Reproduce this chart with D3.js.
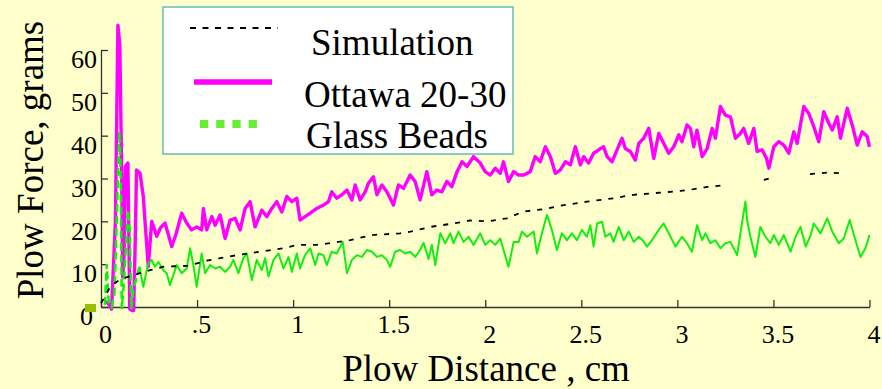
<!DOCTYPE html>
<html>
<head>
  <meta charset="utf-8">
  <title>plow-force</title>
  <style>
    body { margin: 0; background: #ffffcc; }
    svg { display: block; font-family: "Liberation Serif", "Times New Roman", serif; }
    .axis path, .axis line { stroke: #333; stroke-width: 1.3; }
    .axis text { fill: black; font-size: 26px; font-family: "Liberation Serif", serif; }
    .title { font-size: 37px; fill: black; }
  </style>
  <script src="https://d3js.org/d3.v7.min.js"></script>
</head>
<body>
<script>

// data
var simX = [0, 0.02, 0.047, 0.082, 0.116, 0.203, 0.255, 0.325, 0.446, 0.55, 0.62, 0.707, 0.828, 0.95, 1.02, 1.12, 1.21, 1.297, 1.41, 1.557, 1.61, 1.714, 1.835, 1.92, 2.01, 2.113, 2.2, 2.3, 2.41, 2.53, 2.67, 2.77, 2.86, 2.91, 3.016, 3.085, 3.164, 3.26, 3.28, 3.45, 3.5, 3.52, 3.69, 3.78, 3.857];
var simY = [0.9, 2.4, 4.7, 5.9, 6.7, 7.9, 8.6, 9.4, 9.6, 10.8, 11.4, 12.1, 12.9, 13.7, 14.5, 14.5, 15, 15.6, 16.8, 17.2, 17.6, 18.7, 19.5, 20.2, 20, 20.7, 22.3, 22.8, 23.8, 24.6, 25.4, 26.2, 26.5, 26.7, 27.1, 27.5, 28.1, 28.5, NaN, 29.7, 30.2, NaN, 31, 31.4, 31.2];

var ottawaX = [0.02, 0.035, 0.055, 0.075, 0.088, 0.098, 0.108, 0.113, 0.12, 0.127, 0.14, 0.15, 0.16, 0.17, 0.178, 0.185, 0.203, 0.22, 0.246, 0.264, 0.29, 0.31, 0.333, 0.35, 0.368, 0.39, 0.42, 0.446, 0.472, 0.498, 0.524, 0.533, 0.55, 0.577, 0.594, 0.62, 0.646, 0.672, 0.698, 0.724, 0.75, 0.776, 0.802, 0.837, 0.863, 0.889, 0.915, 0.941, 0.967, 0.993, 1.019, 1.036, 1.062, 1.089, 1.123, 1.158, 1.184, 1.201, 1.227, 1.254, 1.28, 1.306, 1.323, 1.349, 1.375, 1.392, 1.418, 1.436, 1.462, 1.488, 1.522, 1.548, 1.575, 1.609, 1.635, 1.661, 1.696, 1.722, 1.748, 1.774, 1.8, 1.826, 1.853, 1.879, 1.905, 1.939, 1.974, 2.0, 2.026, 2.052, 2.078, 2.095, 2.121, 2.148, 2.174, 2.2, 2.234, 2.26, 2.286, 2.313, 2.339, 2.365, 2.391, 2.417, 2.443, 2.469, 2.495, 2.512, 2.538, 2.564, 2.59, 2.616, 2.634, 2.66, 2.686, 2.712, 2.729, 2.755, 2.781, 2.799, 2.825, 2.851, 2.877, 2.903, 2.929, 2.955, 2.981, 3.007, 3.024, 3.05, 3.068, 3.085, 3.102, 3.129, 3.155, 3.181, 3.198, 3.224, 3.25, 3.276, 3.302, 3.328, 3.345, 3.371, 3.398, 3.415, 3.441, 3.464, 3.476, 3.502, 3.528, 3.554, 3.58, 3.606, 3.623, 3.658, 3.684, 3.71, 3.736, 3.762, 3.788, 3.806, 3.832, 3.849, 3.884, 3.91, 3.936, 3.962, 3.988, 4.0];
var ottawaY = [1.2, 1.0, -0.5, 20, 65.8, 61, 30, 7, 12, 32.8, 33.6, -0.5, -0.8, -0.8, 15, 32, 31.3, 25.8, 9.4, 20, 16.5, 18.5, 19.6, 17, 14.1, 17, 21.9, 19.6, 18, 18.7, 18, 23, 18, 21.1, 19.1, 21.5, 16, 20.3, 20.7, 18, 23, 24.6, 18.7, 22.6, 21.1, 23, 24.6, 22.2, 25.8, 24.6, 25.4, 20.3, 21.1, 21.9, 23, 23.8, 24.6, 26.9, 25.4, 26.2, 27.3, 25, 28.5, 25, 26.9, 28.9, 30.4, 26.2, 28.5, 26.9, 23.8, 28.5, 27.7, 30.8, 29.3, 25, 31.6, 26.2, 27.3, 26.9, 29.3, 28.1, 31.6, 33.9, 32.8, 35.1, 33.6, 31.6, 30.8, 32.4, 31.2, 33.9, 29.3, 31.6, 30.8, 30.8, 31.6, 35.1, 33.9, 37.4, 35.1, 31.2, 32, 33.9, 33.2, 37.4, 33.2, 35.1, 33.6, 35.9, 36.7, 37.4, 35.1, 33.9, 36.7, 39.4, 37, 36.3, 34.3, 38.2, 39.4, 41.7, 34.7, 40.5, 38.2, 35.9, 37.4, 40.2, 38.6, 42.5, 41.7, 37.4, 41.3, 35.1, 37, 41.7, 39.4, 46.8, 44.8, 44.4, 39.4, 40.5, 41.7, 38.2, 41.7, 36.3, 36.7, 34.7, 32.4, 37.4, 38.6, 37.8, 35.9, 40.9, 38.2, 46.8, 45.2, 42.1, 38.6, 45.6, 42.9, 41.3, 44.4, 39.4, 46.4, 42.5, 37.8, 40.9, 39.8, 37.4];

var beadsX = [0.02, 0.03, 0.04, 0.055, 0.07, 0.085, 0.095, 0.103, 0.108, 0.12, 0.14, 0.15, 0.158, 0.168, 0.186, 0.2, 0.22, 0.246, 0.264, 0.281, 0.299, 0.325, 0.342, 0.359, 0.394, 0.42, 0.446, 0.464, 0.48, 0.498, 0.524, 0.542, 0.568, 0.594, 0.62, 0.646, 0.672, 0.689, 0.715, 0.741, 0.759, 0.785, 0.811, 0.837, 0.854, 0.872, 0.898, 0.924, 0.95, 0.976, 0.993, 1.019, 1.036, 1.062, 1.089, 1.115, 1.132, 1.158, 1.175, 1.201, 1.227, 1.258, 1.28, 1.306, 1.332, 1.358, 1.384, 1.41, 1.436, 1.462, 1.488, 1.505, 1.531, 1.557, 1.583, 1.609, 1.635, 1.661, 1.679, 1.705, 1.722, 1.74, 1.766, 1.792, 1.818, 1.835, 1.861, 1.887, 1.913, 1.939, 1.974, 2.0, 2.026, 2.052, 2.078, 2.095, 2.121, 2.148, 2.174, 2.191, 2.217, 2.252, 2.269, 2.295, 2.321, 2.347, 2.373, 2.399, 2.425, 2.451, 2.477, 2.503, 2.529, 2.547, 2.564, 2.582, 2.608, 2.625, 2.651, 2.668, 2.695, 2.721, 2.747, 2.773, 2.799, 2.821, 2.842, 2.868, 2.903, 2.929, 2.955, 2.99, 3.024, 3.05, 3.076, 3.102, 3.129, 3.146, 3.172, 3.198, 3.224, 3.25, 3.276, 3.311, 3.328, 3.354, 3.363, 3.38, 3.406, 3.432, 3.458, 3.484, 3.502, 3.528, 3.554, 3.589, 3.615, 3.641, 3.668, 3.694, 3.71, 3.745, 3.78, 3.806, 3.84, 3.866, 3.897, 3.927, 3.953, 3.979, 4.0];
var beadsY = [0.5, 10, 1, 0, 3, 25, 41, 30, -0.5, 6, 22.6, 18, -0.5, 4, 7, 9.4, 4.7, 10.2, 11, 9.4, 10.5, 8.6, 7.9, 5.1, 9.8, 7.9, 9, 13.7, 10, 4.7, 12.5, 7.9, 9.8, 9, 9.4, 8.2, 9.4, 11, 7.9, 11.4, 12.5, 6.3, 11, 8.6, 11.4, 7.1, 11, 12.5, 9, 11.7, 8.2, 12.5, 9, 12.1, 13.7, 9.8, 12.5, 12.1, 9.8, 12.9, 12.5, 15.2, 7.9, 11, 12.1, 11.7, 13.3, 12.9, 11.7, 12.1, 11, 9.4, 12.9, 13.3, 12.5, 12.9, 11.7, 13.3, 15, 11.2, 14.5, 9.8, 17.2, 14.9, 17.2, 14.9, 17.6, 15.2, 16.4, 14.5, 17.2, 14.5, 15.6, 14.5, 16, 13.3, 9.4, 15.2, 15.2, 17.6, 16.4, 17.6, 12.5, 17.2, 21.5, 18, 13.3, 17.2, 15.6, 17.2, 15.6, 18, 16.4, 19.1, 14.1, 19.5, 19.9, 16.4, 17.2, 15.2, 18.7, 15.6, 17.6, 15.2, 16.4, 15.5, 14.1, 15.6, 18, 19.5, 17.2, 14.1, 16.4, 14.9, 12.9, 19.1, 15.6, 17.2, 14.9, 15.6, 13.7, 14.9, 15.2, 12.1, 17.2, 24.6, 20.3, 16.4, 11.7, 18.7, 16.4, 14.9, 16.8, 14.5, 16.8, 12.9, 16.4, 18.7, 14.1, 16.8, 19.5, 17.2, 20.7, 17.6, 14.9, 16, 20.3, 15.6, 11.7, 13.7, 16.8];

var xTicks = [0, 0.5, 1, 1.5, 2, 2.5, 3, 3.5, 4];
var xTickLabels = ["0", ".5", "1", "1.5", "2", "2.5", "3", "3.5", "4"];
var yTicks = [0, 10, 20, 30, 40, 50, 60];
var legendLabels = ["Simulation", "Ottawa 20-30", "Glass Beads"];

var width = 882, height = 389;

var svg = d3.select("body").append("svg")
  .attr("width", width)
  .attr("height", height);

var x = d3.scaleLinear().domain([0, 4]).range([101, 869.5]);
var y = d3.scaleLinear().domain([0, 60]).range([307, 50]);

var sim = d3.zip(simX, simY);
var ottawa = d3.zip(ottawaX, ottawaY);
var beads = d3.zip(beadsX, beadsY);

var line = d3.line()
  .defined(function(d) { return !isNaN(d[1]); })
  .x(function(d) { return x(d[0]); })
  .y(function(d) { return y(d[1]); });

// axes, ticks point inward
var xAxis = svg.append("g")
  .attr("class", "axis axis--x")
  .attr("transform", "translate(0," + y(0) + ")")
  .call(d3.axisBottom(x)
    .tickValues(xTicks)
    .tickSizeInner(-7)
    .tickSizeOuter(0)
    .tickFormat(function(d, i) { return xTickLabels[i]; }));

// labels of .5 .. 1.5 sit a bit higher in the picture
xAxis.selectAll("text")
  .attr("dy", 0)
  .attr("dx", 4)
  .attr("y", function(d) { return (d > 0 && d < 2) ? 26 : 36; });

var yAxis = svg.append("g")
  .attr("class", "axis axis--y")
  .attr("transform", "translate(" + x(0) + ",0)")
  .call(d3.axisLeft(y)
    .tickValues(yTicks)
    .tickSizeInner(-7)
    .tickSizeOuter(0)
    .tickPadding(4));

yAxis.selectAll("text")
  .attr("dy", "0.68em")
  .attr("x", function(d) { return d === 0 ? -8 : -4; });

// small marker at the origin
svg.append("rect")
  .attr("x", x(0) - 16)
  .attr("y", y(0) - 3)
  .attr("width", 11)
  .attr("height", 8)
  .style("fill", "#99bb00");

// series
svg.append("path")
  .datum(ottawa)
  .attr("d", line)
  .style("fill", "none")
  .style("stroke", "#ff00ff")
  .style("stroke-width", 3.4)
  .style("stroke-linejoin", "round");

svg.append("path")
  .datum(beads.filter(function(d) { return d[0] <= 0.2; }))
  .attr("d", line)
  .style("fill", "none")
  .style("stroke", "#11ee11")
  .style("stroke-width", 2.5)
  .style("stroke-dasharray", "8,4");

svg.append("path")
  .datum(beads.filter(function(d) { return d[0] >= 0.2; }))
  .attr("d", line)
  .style("fill", "none")
  .style("stroke", "#11ee11")
  .style("stroke-width", 2)
  .style("stroke-linejoin", "round");

svg.append("path")
  .datum(sim)
  .attr("d", line)
  .style("fill", "none")
  .style("stroke", "black")
  .style("stroke-width", 1.8)
  .style("stroke-dasharray", "5,7");

// axis titles
svg.append("text")
  .attr("class", "title")
  .attr("x", 486)
  .attr("y", 381)
  .attr("text-anchor", "middle")
  .text("Plow Distance , cm");

svg.append("text")
  .attr("class", "title")
  .attr("transform", "translate(43,160) rotate(-90)")
  .attr("text-anchor", "middle")
  .text("Plow Force, grams");

// legend
var legend = svg.append("g");

legend.append("rect")
  .attr("x", 163)
  .attr("y", 7)
  .attr("width", 350)
  .attr("height", 147)
  .style("fill", "white")
  .style("stroke", "#66bbbb")
  .style("stroke-width", 1.5);

var legendStyles = [
  {x1: 190, x2: 278, ly: 28, stroke: "black", w: 1.8, dash: "6,6.5", tx: 311, ty: 55},
  {x1: 194, x2: 272, ly: 82, stroke: "#ff00ff", w: 5.7, dash: null, tx: 304, ty: 107},
  {x1: 200, x2: 257, ly: 124, stroke: "#66ee33", w: 8, dash: "8.3,7.9", tx: 306, ty: 148}
];

legendLabels.forEach(function(label, i) {
  var s = legendStyles[i];
  legend.append("line")
    .attr("x1", s.x1).attr("x2", s.x2)
    .attr("y1", s.ly).attr("y2", s.ly)
    .style("stroke", s.stroke)
    .style("stroke-width", s.w)
    .style("stroke-dasharray", s.dash);
  legend.append("text")
    .attr("class", "title")
    .attr("x", s.tx)
    .attr("y", s.ty)
    .text(label);
});

</script>
</body>
</html>
